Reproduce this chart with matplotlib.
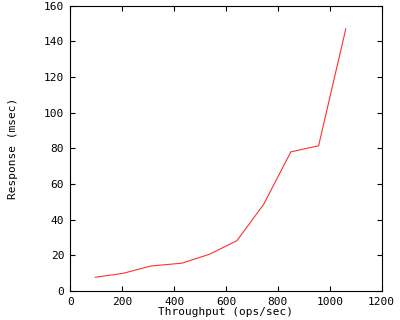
import matplotlib
matplotlib.use("Agg")
import matplotlib.pyplot as plt

throughput = [96, 203, 310, 430, 536, 642, 745, 850, 957, 1062]
response = [7.7, 9.9, 14.0, 15.6, 20.6, 28.2, 48.5, 78.0, 81.4, 147.0]
xticks = [0, 200, 400, 600, 800, 1000, 1200]
yticks = [0, 20, 40, 60, 80, 100, 120, 140, 160]

plt.rcParams['font.family'] = ['DejaVu Sans Mono']
fig = plt.figure(figsize=(4, 3.2), dpi=100)
ax = fig.add_axes([0.176, 0.0906, 0.778, 0.892])
ax.plot(throughput, response, color='#ff3030', linewidth=0.8)
ax.set_xlim(0, 1200)
ax.set_ylim(0, 160)
ax.set_xticks(xticks)
ax.set_yticks(yticks)
ax.tick_params(direction='in', length=3.6, width=0.8, top=True, right=True, labelsize=8, pad=4.5)
for s in ax.spines.values():
    s.set_linewidth(0.8)
ax.set_xlabel('Throughput (ops/sec)', fontsize=8, labelpad=0)
ax.set_ylabel('Response (msec)', fontsize=8, labelpad=19)
fig.savefig('out.png', dpi=100)
